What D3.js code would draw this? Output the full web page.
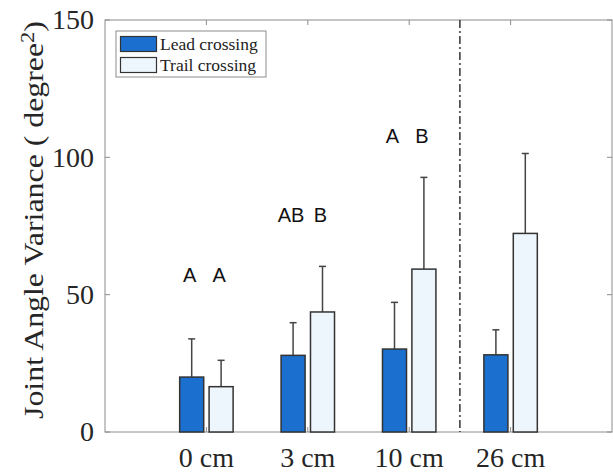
<!DOCTYPE html>
<html>
<head>
<meta charset="utf-8">
<script src="https://cdn.jsdelivr.net/npm/d3@7"></script>
<style>
  body { margin: 0; background: #fff; }
  svg { display: block; }
</style>
</head>
<body>
<div id="chart"></div>
<script>
// data
const categories = ["0 cm", "3 cm", "10 cm", "26 cm"];
const leadMeans = [20.0, 27.9, 30.2, 28.1];
const leadErr = [13.9, 11.9, 17.0, 9.1];
const trailMeans = [16.5, 43.7, 59.3, 72.3];
const trailErr = [9.6, 16.6, 33.4, 29.1];
const yTicks = [0, 50, 100, 150];
// significance letters: category index, series (0 lead, 1 trail), text, height
const sigLetters = [
  { cat: 0, s: 0, text: "A", y: 54.5 },
  { cat: 0, s: 1, text: "A", y: 54.5 },
  { cat: 1, s: 0, text: "AB", y: 76.6 },
  { cat: 1, s: 1, text: "B", y: 76.6 },
  { cat: 2, s: 0, text: "A", y: 105.1 },
  { cat: 2, s: 1, text: "B", y: 105.1 }
];
const seriesNames = ["Lead crossing", "Trail crossing"];
const seriesColors = ["#1b6fcf", "#edf5fd"];

const W = 613, H = 472;
const margin = { top: 20, right: 1, bottom: 40, left: 105 };
const width = W - margin.left - margin.right,
      height = H - margin.top - margin.bottom;

const serif = "'Liberation Serif', 'Times New Roman', serif";
const sans = "'Liberation Sans', Arial, sans-serif";
const axisColor = "#8c8c8c";
const inkColor = "#333";

const svg = d3.select("#chart")
  .append("svg")
    .attr("width", W)
    .attr("height", H);

const g = svg.append("g")
  .attr("transform", `translate(${margin.left},${margin.top})`);

// categories sit at 1..4 on a 0..5 axis, like the original
const x = d3.scaleLinear().domain([0, 5]).range([0, width]);
const y = d3.scaleLinear().domain([0, 150]).range([height, 0]);

const barW = 0.237;
const offset = 0.145;

const rows = [];
categories.forEach((c, i) => {
  rows.push({ cat: i, s: 0, mean: leadMeans[i], err: leadErr[i] });
  rows.push({ cat: i, s: 1, mean: trailMeans[i], err: trailErr[i] });
});
const cx = d => x(d.cat + 1 + (d.s === 0 ? -offset : offset));

// box + ticks
g.append("rect")
  .attr("x", 0).attr("y", 0)
  .attr("width", width).attr("height", height)
  .attr("fill", "none")
  .attr("stroke", axisColor)
  .attr("stroke-width", 1);

const tickLen = 5;
g.append("g").selectAll("line")
  .data(yTicks)
  .join("line")
    .attr("x1", 0).attr("x2", tickLen)
    .attr("y1", d => y(d)).attr("y2", d => y(d))
    .attr("stroke", axisColor);
g.append("g").selectAll("line")
  .data(yTicks)
  .join("line")
    .attr("x1", width).attr("x2", width - tickLen)
    .attr("y1", d => y(d)).attr("y2", d => y(d))
    .attr("stroke", axisColor);
g.append("g").selectAll("line")
  .data(categories)
  .join("line")
    .attr("x1", (d, i) => x(i + 1)).attr("x2", (d, i) => x(i + 1))
    .attr("y1", height).attr("y2", height - tickLen)
    .attr("stroke", axisColor);
g.append("g").selectAll("line")
  .data(categories)
  .join("line")
    .attr("x1", (d, i) => x(i + 1)).attr("x2", (d, i) => x(i + 1))
    .attr("y1", 0).attr("y2", tickLen)
    .attr("stroke", axisColor);

// tick labels
g.append("g").selectAll("text")
  .data(yTicks)
  .join("text")
    .attr("x", -11)
    .attr("y", d => y(d))
    .attr("dy", "0.33em")
    .attr("text-anchor", "end")
    .style("font-family", serif)
    .style("font-size", "28px")
    .attr("fill", "#262626")
    .text(d => d);

g.append("g").selectAll("text")
  .data(categories)
  .join("text")
    .attr("x", (d, i) => x(i + 1))
    .attr("y", height + 35)
    .attr("text-anchor", "middle")
    .style("font-family", serif)
    .style("font-size", "28px")
    .attr("fill", "#262626")
    .text(d => d);

// y label (the original is stretched along its length)
const ylab = svg.append("text")
  .attr("transform", "translate(43,220) rotate(-90) scale(1.18,1)")
  .attr("text-anchor", "middle")
  .style("font-family", serif)
  .style("font-size", "27px")
  .attr("fill", "#262626");
ylab.append("tspan").text("Joint Angle Variance ( degree");
ylab.append("tspan").attr("dy", "-0.45em").style("font-size", "19px").text("2");
ylab.append("tspan").attr("dy", "0.3em").text(")");

// separator between 10 cm and 26 cm
g.append("line")
  .attr("x1", x(3.5)).attr("x2", x(3.5))
  .attr("y1", 0).attr("y2", height)
  .attr("stroke", inkColor)
  .attr("stroke-width", 1.5)
  .attr("stroke-dasharray", "8,3,2,3");

// error bars (upper only)
const capW = 3.5;
const eb = g.append("g").selectAll("g")
  .data(rows)
  .join("g");
eb.append("line")
  .attr("x1", cx).attr("x2", cx)
  .attr("y1", d => y(d.mean)).attr("y2", d => y(d.mean + d.err))
  .attr("stroke", "#444").attr("stroke-width", 1.5);
eb.append("line")
  .attr("x1", d => cx(d) - capW).attr("x2", d => cx(d) + capW)
  .attr("y1", d => y(d.mean + d.err)).attr("y2", d => y(d.mean + d.err))
  .attr("stroke", "#444").attr("stroke-width", 1.5);

// bars
const bw = x(barW) - x(0);
g.append("g").selectAll("rect")
  .data(rows)
  .join("rect")
    .attr("x", d => cx(d) - bw / 2)
    .attr("y", d => y(d.mean))
    .attr("width", bw)
    .attr("height", d => y(0) - y(d.mean))
    .attr("fill", d => seriesColors[d.s])
    .attr("stroke", inkColor)
    .attr("stroke-width", 1.5);

// letters
g.append("g").selectAll("text")
  .data(sigLetters)
  .join("text")
    .attr("x", d => cx(d) - 2)
    .attr("y", d => y(d.y))
    .attr("text-anchor", "middle")
    .style("font-family", sans)
    .style("font-size", "20px")
    .attr("fill", "#111")
    .text(d => d.text);

// legend
const leg = svg.append("g").attr("transform", "translate(116,31)");
leg.append("rect")
  .attr("width", 150).attr("height", 46)
  .attr("fill", "#fff")
  .attr("stroke", axisColor);
seriesNames.forEach((name, i) => {
  leg.append("rect")
    .attr("x", 4.5).attr("y", 5.5 + i * 21)
    .attr("width", 36).attr("height", 15)
    .attr("fill", seriesColors[i])
    .attr("stroke", inkColor)
    .attr("stroke-width", 1.2);
  leg.append("text")
    .attr("x", 44).attr("y", 19 + i * 21)
    .style("font-family", serif)
    .style("font-size", "17.5px")
    .attr("fill", "#222")
    .text(name);
});
</script>
</body>
</html>
